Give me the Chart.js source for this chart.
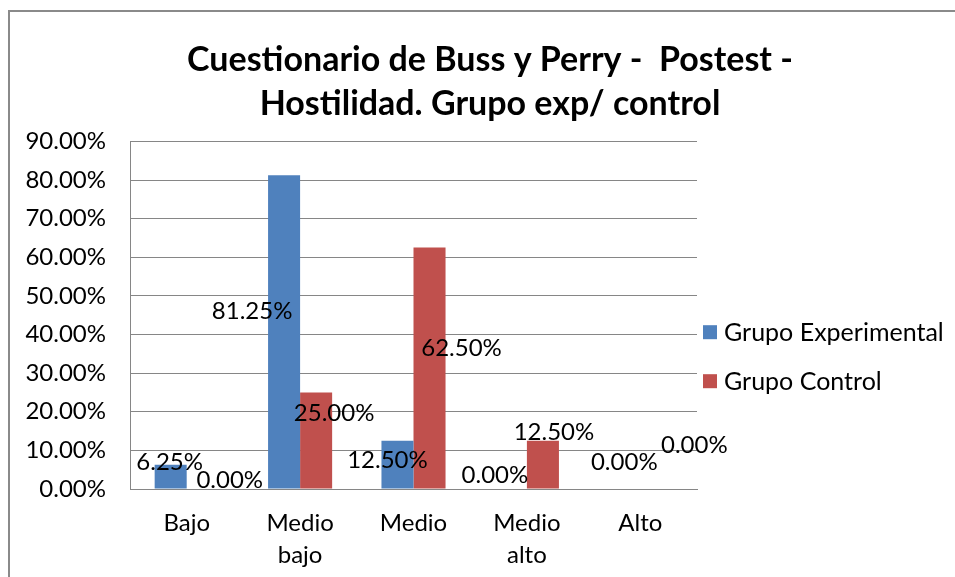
<!DOCTYPE html>
<html>
<head>
<meta charset="utf-8">
<script src="https://cdn.jsdelivr.net/npm/chart.js@4"></script>
<style>
  html, body { margin: 0; padding: 0; background: #fff; }
</style>
</head>
<body>
<canvas id="myChart" width="955" height="577"></canvas>
<script>
var categorias = ["Bajo", ["Medio", "bajo"], "Medio", ["Medio", "alto"], "Alto"];
var experimental = [6.25, 81.25, 12.5, 0, 0];
var control = [0, 25, 62.5, 12.5, 0];
var ticksY = [0, 10, 20, 30, 40, 50, 60, 70, 80, 90];

// where each value label sits, relative to the top of its bar (as in the original)
var offsetsExp = [[-1, -3], [-32, 136], [-10, 20], [-16, -14], [0, -27]];
var offsetsCtrl = [[27, -9], [18, 21], [32, 101], [11, -8], [38, -44]];

var fontName = "Lato, 'Liberation Sans', sans-serif";

var marco = {
  id: "marco",
  beforeDraw: function (chart) {
    var c = chart.ctx;
    c.save();
    c.fillStyle = "#fff";
    c.fillRect(0, 0, chart.width, chart.height);
    c.strokeStyle = "#8a8a8a";
    c.lineWidth = 2;
    c.beginPath();
    c.moveTo(9, chart.height);
    c.lineTo(9, 11);
    c.lineTo(chart.width, 11);
    c.stroke();
    c.restore();
  }
};

var etiquetas = {
  id: "etiquetas",
  afterDatasetsDraw: function (chart) {
    var c = chart.ctx;
    c.save();
    c.font = "24px " + fontName;
    c.fillStyle = "#000";
    c.textAlign = "center";
    c.textBaseline = "middle";
    chart.data.datasets.forEach(function (ds, i) {
      var offs = i === 0 ? offsetsExp : offsetsCtrl;
      chart.getDatasetMeta(i).data.forEach(function (bar, j) {
        c.fillText(ds.data[j].toFixed(2) + "%", bar.x + offs[j][0], bar.y + offs[j][1]);
      });
    });
    c.restore();
  }
};

// legend on the right, drawn next to the plot like in Excel
var leyenda = {
  id: "leyenda",
  afterDraw: function (chart) {
    var c = chart.ctx;
    var a = chart.chartArea;
    var mid = (a.top + a.bottom) / 2;
    c.save();
    c.font = "25px " + fontName;
    c.textAlign = "left";
    c.textBaseline = "middle";
    chart.data.datasets.forEach(function (ds, i) {
      var y = mid + 17 + i * 49;
      c.fillStyle = ds.backgroundColor;
      c.fillRect(a.right + 6, y - 7, 14, 14);
      c.fillStyle = "#000";
      c.fillText(ds.label, a.right + 27, y + 1);
    });
    c.restore();
  }
};

var ctx = document.getElementById("myChart");

var myChart = new Chart(ctx, {
  type: "bar",
  data: {
    labels: categorias,
    datasets: [
      {
        label: "Grupo Experimental",
        data: experimental,
        backgroundColor: "#4F81BD",
        categoryPercentage: 0.565,
        barPercentage: 1
      },
      {
        label: "Grupo Control",
        data: control,
        backgroundColor: "#C0504D",
        categoryPercentage: 0.565,
        barPercentage: 1
      }
    ]
  },
  options: {
    responsive: false,
    animation: false,
    devicePixelRatio: 1,
    layout: { padding: { left: 25, right: 0, top: 0, bottom: 6 } },
    plugins: {
      title: {
        display: true,
        text: ["Cuestionario de Buss y Perry -  Postest -", "Hostilidad. Grupo exp/ control"],
        color: "#000",
        font: { family: fontName, size: 34, weight: "bold", lineHeight: 1.3 },
        padding: { top: 38, bottom: 15 }
      },
      legend: { display: false },
      tooltip: { enabled: false }
    },
    scales: {
      x: {
        grid: { display: false, drawTicks: false },
        border: { color: "#868686", width: 1 },
        ticks: {
          color: "#000",
          font: { family: fontName, size: 24, lineHeight: 1.33 },
          maxRotation: 0,
          padding: 18
        },
        afterFit: function (scale) { scale.height = 82; }
      },
      y: {
        min: 0,
        max: 90,
        afterBuildTicks: function (axis) {
          axis.ticks = ticksY.map(function (v) { return { value: v }; });
        },
        grid: { color: "#868686", drawTicks: false },
        border: { color: "#868686", width: 1 },
        ticks: {
          color: "#000",
          font: { family: fontName, size: 24 },
          padding: 24,
          callback: function (v) { return v.toFixed(2) + "%"; }
        },
        afterFit: function (scale) { scale.width = 105; }
      },
      // empty axis that only keeps room on the right for the legend
      espacio: {
        position: "right",
        grid: { display: false },
        border: { display: false },
        ticks: { display: false },
        afterFit: function (scale) { scale.width = 258; }
      }
    }
  },
  plugins: [marco, etiquetas, leyenda]
});
</script>
</body>
</html>
